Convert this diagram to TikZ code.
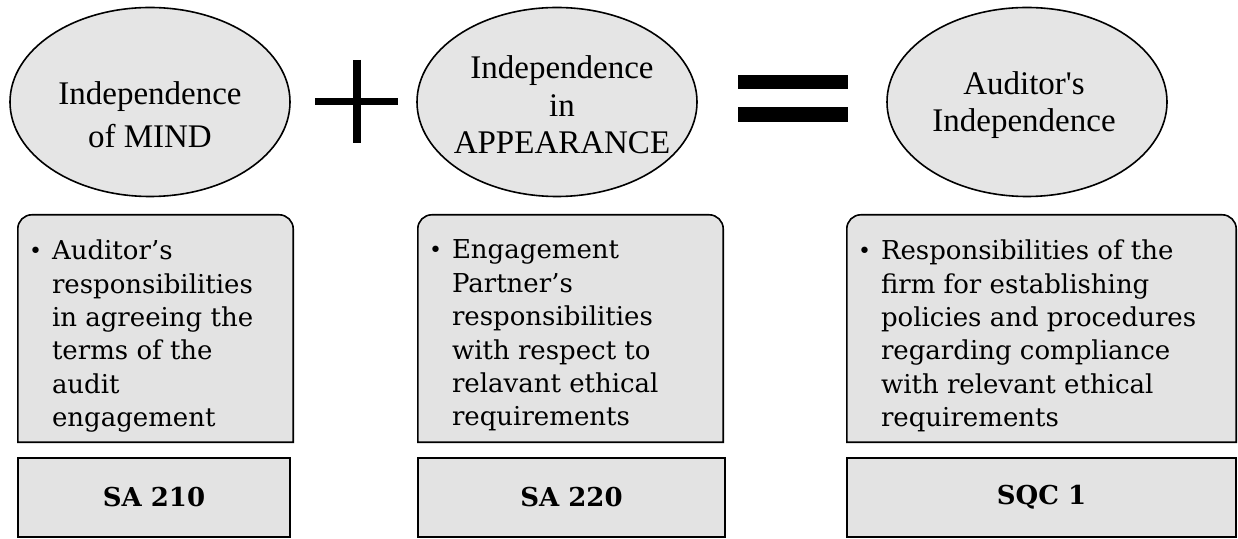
\documentclass[tikz,border=0pt]{standalone}
\usepackage{fontspec}
\setmainfont{DejaVu Serif}
\newfontfamily\ovalfont{Liberation Serif}
\usetikzlibrary{shapes.geometric,backgrounds}

\tikzset{
	oval/.style={ellipse, draw=black, line width=1.6pt, fill=black!10,
		minimum width=280pt, minimum height=189pt, inner sep=0pt},
	ovaltext/.style={align=center, inner sep=0pt,
		font=\ovalfont\fontsize{33}{37.5}\selectfont},
	cardarea/.style={rectangle, minimum height=227pt, inner sep=0pt},
	card/.style={draw=black, line width=1.6pt, fill=black!11},
	cardtext/.style={align=left, anchor=north west, inner sep=0pt,
		font=\fontsize{26}{33.4}\selectfont},
	codebox/.style={rectangle, draw=black, line width=1.6pt, fill=black!11,
		minimum height=79pt, inner sep=0pt, font=\bfseries\fontsize{26}{30}\selectfont},
	sign/.style={line width=7.5pt}
}
\newcommand{\cardbullet}{\llap{\raisebox{1pt}{\fontsize{22}{22}\selectfont\textbullet}\hspace{10pt}}}

\begin{document}
\begin{tikzpicture}[x=1pt,y=1pt]
	\useasboundingbox (0,0) rectangle (1238,538);
	
	% Ovals
	\node [oval] (mind) at (150,436) {};
	\node [oval] (appear) at (557,436) {};
	\node [oval] (indep) at (1027,436) {};
	
	% Oval texts
	\node [ovaltext, yshift=-13pt, font=\ovalfont\fontsize{33}{43}\selectfont] (mindtxt) at (mind.center) {Independence\\of MIND};
	\node [ovaltext, xshift=5pt, yshift=-3pt] (appeartxt) at (appear.center) {Independence\\in\\APPEARANCE};
	\node [ovaltext, xshift=-3pt, yshift=-3pt] (indeptxt) at (indep.center) {Auditor\textquotesingle s\\Independence};
	
	% Plus sign
	\draw [sign] (315,436.5) -- (398,436.5);
	\draw [sign] (357,478) -- (357,395);
	
	% Equals sign
	\fill (738,449) rectangle (848,463);
	\fill (738,416) rectangle (848,431);
	
	% Card areas
	\node [cardarea, minimum width=275pt] (card1) at (155.5,209.5) {};
	\node [cardarea, minimum width=305pt] (card2) at (570.5,209.5) {};
	\node [cardarea, minimum width=389pt] (card3) at (1041.5,209.5) {};
	
	% Card texts
	\node [cardtext] (card1txt) at ([xshift=34pt,yshift=-25pt]card1.north west)
		{\cardbullet Auditor’s\\responsibilities\\in agreeing the\\terms of the\\audit\\engagement};
	\node [cardtext] (card2txt) at ([xshift=34pt,yshift=-25pt]card2.north west)
		{\cardbullet Engagement\\Partner’s\\responsibilities\\with respect to\\relavant ethical\\requirements};
	\node [cardtext] (card3txt) at ([xshift=34pt,yshift=-25pt]card3.north west)
		{\cardbullet Responsibilities of the\\firm for establishing\\policies and procedures\\regarding compliance\\with relevant ethical\\requirements};
	
	% Card outlines, round top corners
	\begin{scope}[on background layer]
		\foreach \c in {card1,card2,card3}{
			\draw [card] (\c.south west) -- ([yshift=-14pt]\c.north west)
				arc [start angle=180, end angle=90, radius=14pt]
				-- ([xshift=-14pt]\c.north east)
				arc [start angle=90, end angle=0, radius=14pt]
				-- (\c.south east) -- cycle;
		}
	\end{scope}
	
	% Standard boxes
	\node [codebox, minimum width=272pt] (sa210) at (154,40.5) {SA 210};
	\node [codebox, minimum width=307pt] (sa220) at (571.5,40.5) {SA 220};
	\node [codebox, minimum width=389pt] (sqc1) at (1041.5,40.5) {SQC 1};
	
\end{tikzpicture}
\end{document}
